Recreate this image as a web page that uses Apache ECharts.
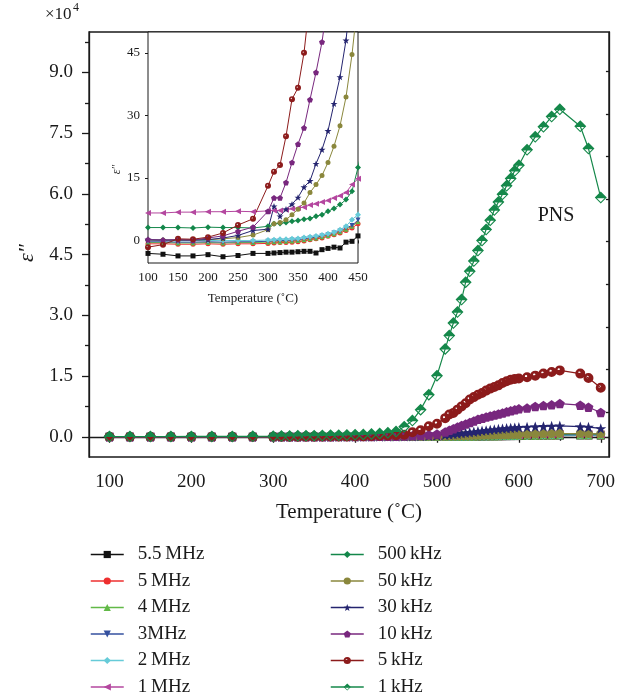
<!DOCTYPE html>
<html>
<head>
<meta charset="utf-8">
<script src="https://cdn.jsdelivr.net/npm/echarts@6/dist/echarts.min.js"></script>
<style>
  html, body { margin: 0; padding: 0; background: #fff; }
  #chart { width: 618px; height: 699px; }
</style>
</head>
<body>
<div id="chart"></div>
<script>
// Measurement temperatures (°C)
const temperature = [100,125,150,175,200,225,250,275,300,
  310,320,330,340,350,360,370,380,390,400,410,420,430,440,450,
  460,470,480,490,500,510,
  515,520,525,530,535,540,545,550,555,560,565,570,575,580,585,590,595,600,
  610,620,630,640,650,
  675,685,700];

// Dielectric loss ε'' for each measuring frequency
const eps_5p5MHz = [-3.1,-3.3,-3.7,-3.7,-3.4,-3.9,-3.6,-3.1,-3.1,
  -3.0,-2.9,-2.8,-2.8,-2.7,-2.6,-2.6,-3.0,-2.2,-1.9,-1.6,-1.8,-0.4,-0.2,1.1,
  3,6,10,15,22,30,
  35,40,46,52,58,65,72,80,88,96,105,114,124,134,145,156,168,180,
  205,230,255,280,300,
  320,315,290];
const eps_5MHz = [-0.8,-0.8,-0.9,-0.9,-0.8,-0.9,-0.8,-0.8,-0.7,
  -0.6,-0.5,-0.5,-0.4,-0.3,-0.1,0.2,0.4,0.6,1.0,1.4,1.8,2.4,3.0,4.0,
  6,9,13,18,25,33,
  38,44,50,57,64,72,80,89,98,108,118,129,140,152,165,178,192,206,
  235,265,295,325,350,
  370,360,330];
const eps_4MHz = [-0.5,-0.5,-0.6,-0.6,-0.5,-0.6,-0.5,-0.5,-0.4,
  -0.3,-0.3,-0.2,-0.1,0.0,0.2,0.4,0.6,0.9,1.2,1.6,2.1,2.7,3.4,4.5,
  7,10,15,21,28,37,
  43,49,56,63,71,79,88,97,107,117,128,139,151,164,177,191,205,220,
  250,280,310,340,365,
  385,375,345];
const eps_3MHz = [-0.3,-0.3,-0.4,-0.4,-0.3,-0.4,-0.3,-0.3,-0.2,
  -0.1,0.0,0.0,0.1,0.2,0.4,0.6,0.8,1.1,1.4,1.8,2.3,3.0,3.6,4.9,
  8,12,17,24,32,42,
  48,55,62,70,79,88,98,108,119,130,142,154,167,181,195,210,226,242,
  275,308,340,372,400,
  420,410,378];
const eps_2MHz = [0.0,0.0,-0.1,0.0,0.0,0.0,0.0,0.0,0.1,
  0.2,0.3,0.3,0.4,0.5,0.7,0.9,1.1,1.3,1.6,2.0,2.6,3.4,5.0,6.2,
  10,15,21,29,39,51,
  58,66,75,84,94,105,116,128,141,154,168,183,198,214,231,248,266,285,
  322,360,398,435,465,
  485,470,430];
const eps_1MHz = [6.6,6.6,6.8,6.8,6.9,6.9,7.0,6.9,7.1,
  7.2,7.2,7.4,7.6,7.8,8.0,8.5,8.8,9.2,9.6,10.2,10.7,11.5,13.4,14.8,
  20,28,38,50,64,80,
  90,100,112,124,137,151,166,182,199,217,236,256,277,299,322,346,371,397,
  450,505,560,612,655,
  680,660,600];
const eps_500kHz = [3.1,3.1,3.1,3.0,3.2,3.1,3.1,3.0,3.4,
  4.0,4.1,4.3,4.6,4.8,5.1,5.3,5.8,6.2,7.0,7.7,8.6,9.8,11.8,17.5,
  24,32,42,55,70,88,
  98,109,121,134,148,163,179,196,214,233,253,274,296,319,343,368,394,421,
  475,530,585,635,675,
  700,685,630];
const eps_50kHz = [0.1,0.1,0.1,0.1,0.2,0.4,0.7,1.3,2.6,
  4.0,4.3,5.0,6.2,7.5,9.0,11.5,13.4,15.6,18.7,22.6,27.5,34.4,44.6,58,
  80,100,125,150,180,210,
  230,250,270,290,310,330,350,370,390,410,430,450,470,490,510,530,550,570,
  620,670,720,760,800,
  800,780,720];
const eps_30kHz = [0.2,0.1,0.1,0.1,0.2,0.6,1.2,2.4,2.7,
  8.2,5.8,7.5,8.7,10.3,12.8,14.3,18.4,21.8,26.3,32.8,39.2,48.0,62,78,
  100,130,170,230,300,450,
  550,650,760,870,980,1100,1220,1340,1460,1580,1690,1800,1900,2000,2100,2180,2260,2330,
  2420,2500,2570,2640,2700,
  2500,2400,2050];
const eps_10kHz = [0.2,0.1,0.2,0.1,0.6,1.1,2.2,3.2,7.0,
  10.2,10.2,13.9,18.7,23.1,27.0,33.8,40.3,47.6,58,70,84,100,118,140,
  170,230,330,500,700,1200,
  1600,2000,2400,2800,3150,3500,3900,4300,4600,4900,5150,5400,5650,5900,6150,6400,6650,6900,
  7100,7500,7700,7900,8200,
  7800,7300,6000];
const eps_5kHz = [-1.6,-1.0,0.4,0.3,0.8,1.8,3.7,5.2,13.1,
  16.5,18.1,25.0,33.9,36.6,45.0,58,75,95,120,150,190,240,300,380,
  500,1100,1600,2600,3200,4600,
  5500,5900,6700,7500,8300,9200,9800,10400,10800,11400,11900,12300,12700,13300,13700,14100,14300,14400,
  14700,15100,15600,16000,16400,
  15600,14500,12100];
const eps_1kHz = [60,62,65,68,72,80,95,110,140,
  165,190,220,250,280,320,360,400,450,500,580,680,800,1000,1300,
  2500,4000,6700,10400,15100,21700,
  25000,28100,30800,33900,38200,40900,43400,46000,48500,51200,53500,56000,58000,59900,62000,63800,65700,67100,
  70900,74100,76600,79100,80900,
  76700,71200,59100];

// Axis tick values
const mainXTicks = [100,200,300,400,500,600,700];
const mainXMinorTicks = [150,250,350,450,550,650];
const mainYTicks = [0,15000,30000,45000,60000,75000,90000];
const mainYMinorTicks = [7500,22500,37500,52500,67500,82500,97500];
const mainYRightTicks = [6000,16600,27100,37600,48300,58700,69400,79700,90200];
const insetYTicks = [0,15,30,45];

// Marker shapes
const STAR = 'path://M10 0L12.35 6.76L19.51 6.91L13.8 11.24L15.88 18.09L10 14L4.12 18.09L6.2 11.24L0.49 6.91L7.65 6.76Z';
const PENTAGON = 'path://M10 0L19.51 6.91L15.88 18.09L4.12 18.09L0.49 6.91Z';
const SPHERE = 'path://M0 10A10 10 0 1 1 20 10A10 10 0 1 1 0 10ZM5.6 8A2.4 2.4 0 1 0 10.4 8A2.4 2.4 0 1 0 5.6 8Z';
const HALF_DIAMOND = 'path://M10 0L20 10L10 20L0 10ZM3.6 11L10 17.4L16.4 11Z';

const seriesDefs = [
  { name: '5.5\u2009MHz', data: eps_5p5MHz, color: '#111111', symbol: 'rect', rot: 0, size: 8, insetSize: 5, inset: true },
  { name: '5\u2009MHz', data: eps_5MHz, color: '#ee2f2f', symbol: 'circle', rot: 0, size: 8, insetSize: 5, inset: true },
  { name: '4\u2009MHz', data: eps_4MHz, color: '#62b947', symbol: 'triangle', rot: 0, size: 8, insetSize: 5, inset: true },
  { name: '3MHz', data: eps_3MHz, color: '#34509f', symbol: 'triangle', rot: 180, size: 8, insetSize: 5, inset: true },
  { name: '2\u2009MHz', data: eps_2MHz, color: '#66cbd8', symbol: 'diamond', rot: 0, size: 9, insetSize: 6, inset: true },
  { name: '1\u2009MHz', data: eps_1MHz, color: '#b4479f', symbol: 'triangle', rot: 90, size: 8, insetSize: 6, inset: true },
  { name: '500\u2009kHz', data: eps_500kHz, color: '#13874a', symbol: 'diamond', rot: 0, size: 9, insetSize: 6, inset: true },
  { name: '50\u2009kHz', data: eps_50kHz, color: '#8a873c', symbol: 'circle', rot: 0, size: 9, insetSize: 5, inset: true },
  { name: '30\u2009kHz', data: eps_30kHz, color: '#24246f', symbol: STAR, rot: 0, size: 11, insetSize: 7, inset: true },
  { name: '10\u2009kHz', data: eps_10kHz, color: '#78277e', symbol: PENTAGON, rot: 0, size: 10, insetSize: 6, inset: true },
  { name: '5\u2009kHz', data: eps_5kHz, color: '#8c1b1b', symbol: SPHERE, rot: 0, size: 10, insetSize: 6, inset: true },
  { name: '1\u2009kHz', data: eps_1kHz, color: '#15884a', symbol: HALF_DIAMOND, rot: 0, size: 12, insetSize: 6, inset: false }
];

const FONT = '"Liberation Serif", "Times New Roman", serif';
const INK = '#1a1a1a';
const INSET_MAX_T = 460;

function makeSeries(def, inset) {
  const pts = [];
  temperature.forEach((t, i) => {
    if (!inset || t <= INSET_MAX_T) pts.push([t, def.data[i]]);
  });
  return {
    name: def.name,
    type: 'line',
    xAxisIndex: inset ? 2 : 0,
    yAxisIndex: inset ? 3 : 0,
    data: pts,
    symbol: def.symbol,
    symbolSize: inset ? def.insetSize : def.size,
    symbolRotate: def.rot,
    symbolKeepAspect: true,
    showAllSymbol: true,
    clip: true,
    z: inset ? 10 : 2,
    itemStyle: { color: def.color },
    lineStyle: { color: def.color, width: inset ? 1 : 1.2 },
    emphasis: { disabled: true }
  };
}

const series = [];
seriesDefs.forEach(d => series.push(makeSeries(d, false)));
seriesDefs.forEach(d => { if (d.inset) series.push(makeSeries(d, true)); });

const axisLineStyle = { color: INK, width: 1.3 };

function legendColumn(defs, left) {
  return {
    data: defs.map(d => d.name), orient: 'vertical', left: left, top: 545, height: 200,
    itemWidth: 33, itemHeight: 9, itemGap: 7.5, padding: 0, selectedMode: false,
    lineStyle: { width: 1.5 },
    textStyle: { fontSize: 19, color: INK, fontFamily: FONT, padding: [0, 0, 0, 9] }
  };
}

const option = {
  animation: false,
  backgroundColor: '#fff',
  textStyle: { fontFamily: FONT },
  grid: [
    { left: 89, top: 32, width: 520, height: 425, show: true, borderColor: INK, borderWidth: 1.3, backgroundColor: 'transparent' },
    { left: 148, top: 32, width: 210, height: 231, show: true, borderColor: INK, borderWidth: 1, backgroundColor: '#fff', z: 5 }
  ],
  xAxis: [
    {
      gridIndex: 0, type: 'value', min: 75, max: 710, position: 'bottom',
      axisLine: { show: true, lineStyle: axisLineStyle },
      axisTick: { show: true, customValues: mainXTicks, length: 6, lineStyle: axisLineStyle },
      axisLabel: { customValues: mainXTicks, margin: 16, fontSize: 19, color: INK, fontFamily: FONT },
      splitLine: { show: false },
      name: 'Temperature (\u02DAC)', nameLocation: 'middle', nameGap: 45,
      nameTextStyle: { fontSize: 21, color: INK, fontFamily: FONT }
    },
    {
      gridIndex: 0, type: 'value', min: 75, max: 710, position: 'bottom',
      axisLine: { show: false },
      axisTick: { show: true, customValues: mainXMinorTicks, length: 4, lineStyle: axisLineStyle },
      axisLabel: { show: false }, splitLine: { show: false }
    },
    {
      gridIndex: 1, type: 'value', min: 100, max: 450, interval: 50, position: 'bottom',
      axisLine: { show: true, lineStyle: { color: INK, width: 1 } },
      axisTick: { show: true, length: 3, lineStyle: { color: INK, width: 1 } },
      axisLabel: { fontSize: 13, color: INK, margin: 8, fontFamily: FONT },
      splitLine: { show: false },
      name: 'Temperature (\u02DAC)', nameLocation: 'middle', nameGap: 29,
      nameTextStyle: { fontSize: 13, color: INK, fontFamily: FONT }
    }
  ],
  yAxis: [
    {
      gridIndex: 0, type: 'value', min: -5000, max: 100000, position: 'left',
      axisLine: { show: true, lineStyle: axisLineStyle },
      axisTick: { show: true, customValues: mainYTicks, length: 7, lineStyle: axisLineStyle },
      axisLabel: { customValues: mainYTicks, margin: 16, fontSize: 19, color: INK, fontFamily: FONT,
        formatter: v => (v / 10000).toFixed(1) },
      splitLine: { show: false },
      name: '\u03B5\u2033', nameLocation: 'middle', nameGap: 40,
      nameTextStyle: { fontSize: 22, fontStyle: 'italic', color: INK, fontFamily: FONT, padding: [0, 17, 0, 0] }
    },
    {
      gridIndex: 0, type: 'value', min: -5000, max: 100000, position: 'left',
      axisLine: { show: false },
      axisTick: { show: true, customValues: mainYMinorTicks, length: 4, lineStyle: axisLineStyle },
      axisLabel: { show: false }, splitLine: { show: false }
    },
    {
      gridIndex: 0, type: 'value', min: -5000, max: 100000, position: 'right',
      axisLine: { show: true, lineStyle: axisLineStyle },
      axisTick: { show: true, inside: true, customValues: mainYRightTicks, length: 3, lineStyle: axisLineStyle },
      axisLabel: { show: false }, splitLine: { show: false }
    },
    {
      gridIndex: 1, type: 'value', min: -5.4, max: 50, position: 'left',
      axisLine: { show: true, lineStyle: { color: INK, width: 1 } },
      axisTick: { show: true, customValues: insetYTicks, length: 3, lineStyle: { color: INK, width: 1 } },
      axisLabel: { customValues: insetYTicks, fontSize: 13, color: INK, margin: 8, fontFamily: FONT },
      splitLine: { show: false },
      name: '\u03B5\u2033', nameLocation: 'middle', nameGap: 24,
      nameTextStyle: { fontSize: 12, fontStyle: 'italic', color: INK, fontFamily: FONT, padding: [0, 44, 0, 0] }
    }
  ],
  legend: [
    legendColumn(seriesDefs.slice(0, 6), 90),
    legendColumn(seriesDefs.slice(6), 330)
  ],
  graphic: [
    { type: 'text', x: 45, y: 15, style: { text: '\u00D710', fontSize: 17, fontFamily: FONT, fill: INK, verticalAlign: 'middle' } },
    { type: 'text', x: 73, y: 8, style: { text: '4', fontSize: 12, fontFamily: FONT, fill: INK, verticalAlign: 'middle' } },
    { type: 'text', x: 556, y: 216, style: { text: 'PNS', fontSize: 20, fontFamily: FONT, fill: INK, align: 'center', verticalAlign: 'middle' } }
  ],
  series: series
};

const chart = echarts.init(document.getElementById('chart'), null, { renderer: 'canvas' });
chart.setOption(option);
</script>
</body>
</html>
